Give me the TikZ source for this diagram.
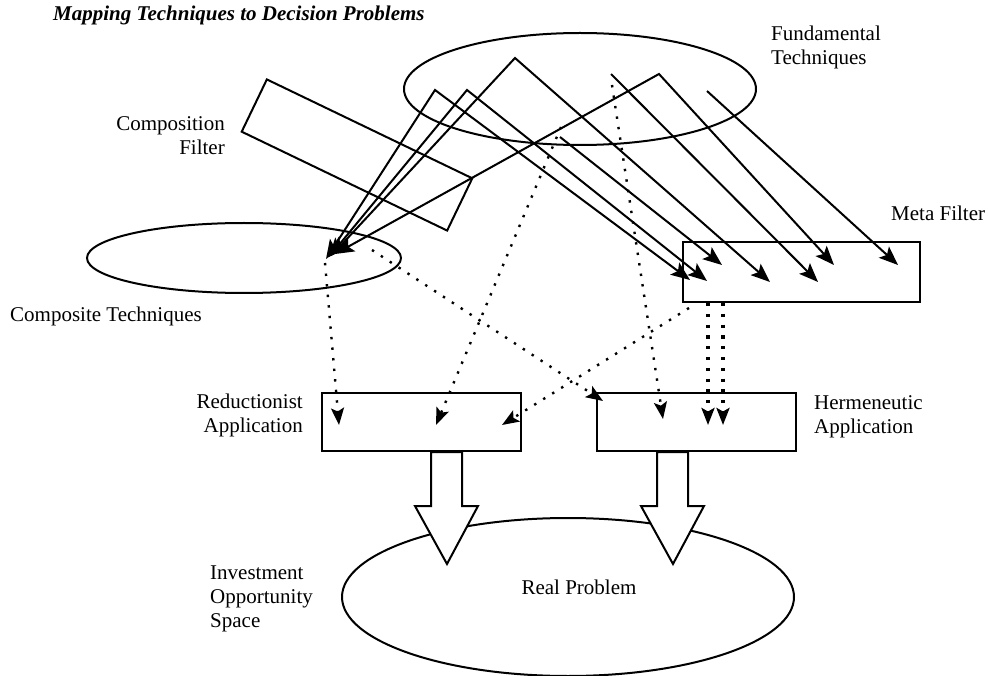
\documentclass[tikz,border=0pt]{standalone}
\usepackage{fontspec}
\setmainfont{Liberation Serif}
\usetikzlibrary{arrows.meta}
\usetikzlibrary{shapes.geometric}

\begin{document}
\begin{tikzpicture}[x = 1pt, y = -1pt,
    font = \fontsize{21}{24}\selectfont,
    >= {Stealth[length = 19pt, width = 15pt, inset = 4pt]},
    solidline/.style = {line width = 2pt},
    dotline/.style = {-{Stealth[length = 17pt, width = 13pt, inset = 3.5pt]},
        line width = 2.4pt, dash pattern = on 2.4pt off 8.2pt},
    thickdots/.style = {dotline, line width = 3.2pt, dash pattern = on 3.2pt off 7.6pt},
    oval/.style = {draw, ellipse, inner sep = 0, line width = 2pt},
    box/.style = {draw, inner sep = 0, line width = 2pt},
    txt/.style = {inner sep = 0},
    block/.style = {draw, fill = white, line width = 2pt}]
    \useasboundingbox (0, 0) rectangle (988, 676);

    %% title
    \node[txt, anchor = west] (title) at (53, 15)
        {\bfseries\itshape Mapping Techniques to Decision Problems};

    %% shapes
    \node[oval, minimum width = 352pt, minimum height = 112pt] (fund) at (580, 89) {};
    \node[box, rotate = -25.7, minimum width = 228pt, minimum height = 58pt] (compfilt) at (357, 155) {};
    \node[oval, minimum width = 314pt, minimum height = 70pt] (comp) at (244, 258) {};
    \node[box, minimum width = 237pt, minimum height = 60pt] (meta) at (801.5, 272) {};
    \node[box, minimum width = 199pt, minimum height = 58pt] (red) at (421.5, 422) {};
    \node[box, minimum width = 199pt, minimum height = 58pt] (her) at (696.5, 422) {};
    \node[oval, minimum width = 452pt, minimum height = 158pt] (real) at (568, 597) {};

    %% labels
    \node[txt, anchor = west, align = left] (fundtxt) at (771, 47) {Fundamental\\Techniques};
    \node[txt, anchor = east, align = right] (compfilttxt) at (225, 136) {Composition\\Filter};
    \node[txt, anchor = west] (comptxt) at (10, 316) {Composite Techniques};
    \node[txt, anchor = west] (metatxt) at (891, 213) {Meta Filter};
    \node[txt, anchor = east, align = right] (redtxt) at (303, 415) {Reductionist\\Application};
    \node[txt, anchor = west, align = left] (hertxt) at (814, 417) {Hermeneutic\\Application};
    \node[txt, anchor = west, align = left] (invtxt) at (210, 599) {Investment\\Opportunity\\Space};
    \node[txt] (realtxt) at (579, 587) {Real Problem};

    %% points in the fundamental techniques
    \coordinate (p1) at (515, 58);
    \coordinate (p2) at (435, 90);
    \coordinate (p3) at (467, 90);
    \coordinate (p4) at (659, 74);
    \coordinate (s5) at (611, 74);
    \coordinate (s6) at (707, 91);
    \coordinate (s7) at (560, 137);

    %% ends in the composite techniques
    \coordinate (c1) at (326, 259);
    \coordinate (c2) at (329, 257);
    \coordinate (c3) at (331, 256);
    \coordinate (c4) at (335, 254);

    %% ends in the meta filter
    \coordinate (m1) at (690, 280);
    \coordinate (m2) at (707, 281);
    \coordinate (m3) at (722, 265);
    \coordinate (m4) at (770, 282);
    \coordinate (m5) at (818, 282);
    \coordinate (m6) at (834, 265);
    \coordinate (m7) at (898, 265);

    %% solid arrows
    \draw[solidline, <->] (c1) -- (p2) -- (m1);
    \draw[solidline, <->] (c2) -- (p3) -- (m2);
    \draw[solidline, <->] (c3) -- (p1) -- (m4);
    \draw[solidline, <->] (c4) -- (p4) -- (m6);
    \draw[solidline, ->] (s7) -- (m3);
    \draw[solidline, ->] (s5) -- (m5);
    \draw[solidline, ->] (s6) -- (m7);

    %% dotted arrows
    \coordinate (d1a) at (325, 263);
    \coordinate (d2a) at (372, 250);
    \coordinate (d3a) at (561, 127);
    \coordinate (d4a) at (689, 308);
    \coordinate (d5a) at (612, 85);
    \coordinate (r1) at (339, 425);
    \coordinate (r2) at (436, 425);
    \coordinate (r3) at (502, 425);
    \coordinate (h1) at (603, 401);
    \coordinate (h2) at (663, 419);
    \coordinate (h3) at (708, 425);
    \coordinate (h4) at (723, 425);
    \draw[dotline] (d1a) -- (r1);
    \draw[dotline] (d2a) -- (h1);
    \draw[dotline] (d3a) -- (r2);
    \draw[dotline] (d4a) -- (r3);
    \draw[dotline] (d5a) -- (h2);
    \draw[thickdots] (meta.south west -| h3) -- (h3);
    \draw[thickdots] (meta.south west -| h4) -- (h4);

    %% block arrows
    \draw[block] ([xshift = 9.5pt] red.south) -- ++(0, 54) -- ++(-16, 0) -- ++(32, 58)
        -- ++(31, -58) -- ++(-16, 0) -- ++(0, -54) -- cycle;
    \draw[block] ([xshift = -39.5pt] her.south) -- ++(0, 54) -- ++(-16, 0) -- ++(32, 58)
        -- ++(31, -58) -- ++(-16, 0) -- ++(0, -54) -- cycle;
\end{tikzpicture}
\end{document}
